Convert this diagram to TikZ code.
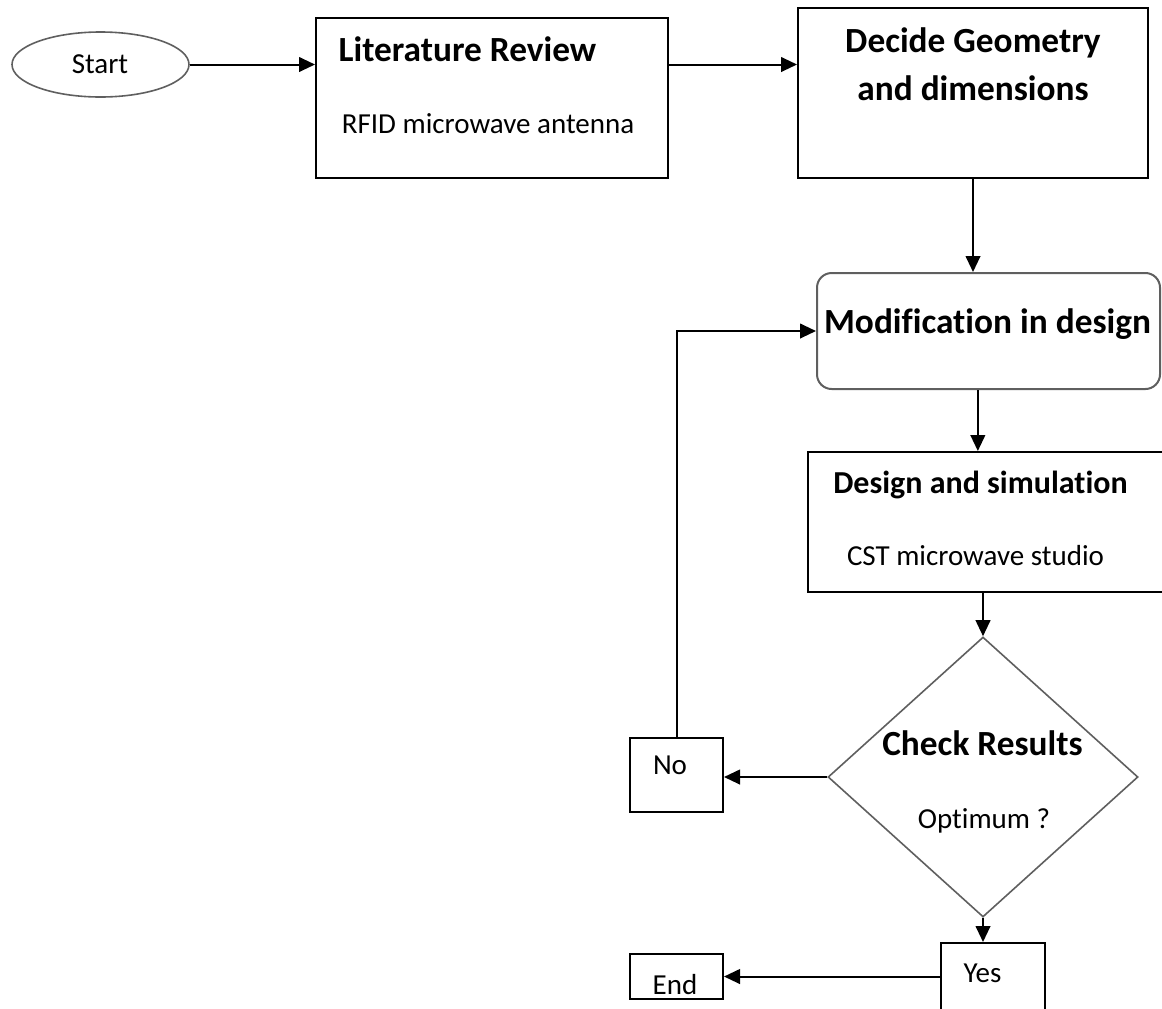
\documentclass[tikz,border=0pt]{standalone}
\usepackage{fontspec}
\setmainfont{Carlito}[Ligatures={NoCommon}]
\usepackage{tikz}
\usetikzlibrary{shapes.geometric,arrows.meta,positioning}
\definecolor{edgegray}{RGB}{95,95,95}

\begin{document}
\begin{tikzpicture}[x=0.75pt,y=0.75pt,yscale=-1,xscale=1,
  box/.style={draw=black,line width=1.5pt,rectangle,inner sep=0pt},
  roundbox/.style={draw=edgegray,line width=1.5pt,rectangle,rounded corners=11pt,inner sep=0pt},
  oval/.style={draw=edgegray,line width=1.2pt,ellipse,inner sep=0pt},
  decide/.style={draw=edgegray,line width=1.2pt,diamond,inner sep=0pt},
  flow/.style={line width=1.5pt,-{Triangle[length=12pt,width=11pt]}},
  txt/.style={anchor=base,inner sep=0pt,font=\fontsize{21.75}{26}\selectfont},
  ttl/.style={anchor=base,inner sep=0pt,font=\bfseries\fontsize{26.5}{32}\selectfont},
  subttl/.style={anchor=base,inner sep=0pt,font=\bfseries\fontsize{24}{29}\selectfont}]
\useasboundingbox (0,0) rectangle (1162,1008);

%Shape: Ellipse [start]
\node [oval,minimum width=132.75pt,minimum height=48.75pt] (start) at (100.5,64.5) {};
%Shape: Rectangle [literature]
\node [box,minimum width=264pt,minimum height=120pt] (lit) at (492,98) {};
%Shape: Rectangle [geometry]
\node [box,minimum width=262.5pt,minimum height=127.5pt] (geom) at (973,93) {};
%Shape: Rounded Rect [modification]
\node [roundbox,minimum width=257.25pt,minimum height=87pt] (modif) at (988.5,331) {};
%Shape: Rectangle [simulation]
\node [box,minimum width=267pt,minimum height=105pt] (design) at (986,522) {};
%Shape: Diamond [check]
\node [decide,minimum width=232.5pt,minimum height=210pt] (check) at (983,777) {};
%Shape: Rectangle [no]
\node [box,minimum width=69.75pt,minimum height=55.5pt] (no) at (676.5,775) {};
%Shape: Rectangle [yes]
\node [box,minimum width=78pt,minimum height=57.75pt] (yes) at (993,981.5) {};
%Shape: Rectangle [end]
\node [box,minimum width=69.75pt,minimum height=33.75pt] (endbox) at (676.5,976.5) {};

%Straight Lines
\draw [flow] (start.east) -- (start.east -| lit.west);
\draw [flow] (lit.east |- start.east) -- (geom.west |- start.east);
\draw [flow] (geom.south) -- (geom.south |- modif.north);
\draw [flow] ([xshift=-8pt]modif.south) -- ([xshift=-8pt]modif.south |- design.north);
\draw [flow] (design.south -| check.north) -- (check.north);
\draw [flow] (check.west) -- (check.west -| no.east);
\draw [flow] (no.north) |- (modif.west);
\draw [flow] (check.south) -- (check.south |- yes.north);
\draw [flow] (yes.west |- endbox.east) -- (endbox.east);

% Text Node
\node [txt] (tstart) at (100,73) {Start};
% Text Node
\node [ttl] (tlit) at (467.5,61) {Literature Review};
% Text Node
\node [txt] (trfid) at (488,133) {RFID microwave antenna};
% Text Node
\node [ttl] (tgeom) at (973,52) {Decide Geometry};
% Text Node
\node [ttl] (tdim) at (973,100) {and dimensions};
% Text Node
\node [ttl] (tmodif) at (987.5,333) {Modification in design};
% Text Node
\node [subttl] (tdesign) at (980.5,493) {Design and simulation};
% Text Node
\node [txt] (tcst) at (975.5,565) {CST microwave studio};
% Text Node
\node [ttl] (tcheck) at (982.5,755) {Check Results};
% Text Node
\node [txt] (topt) at (984,828) {Optimum ?};
% Text Node
\node [txt] (tno) at (670,774) {No};
% Text Node
\node [txt] (tyes) at (982.5,982) {Yes};
% Text Node
\node [txt] (tend) at (675,994) {End};

\end{tikzpicture}
\end{document}
